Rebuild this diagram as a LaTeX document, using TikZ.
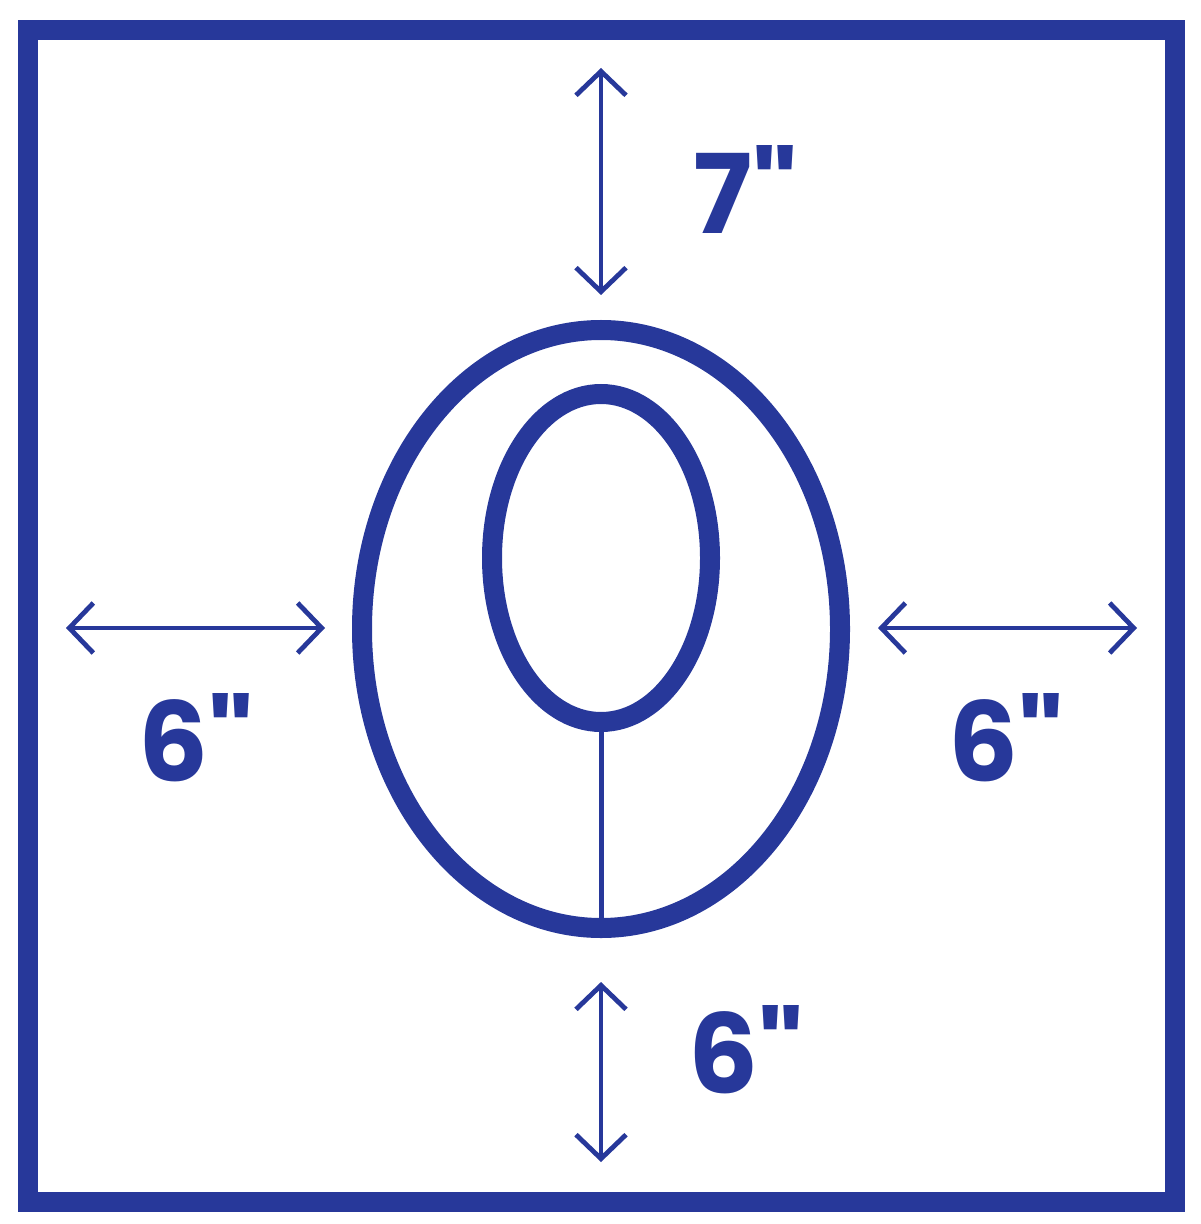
\documentclass[tikz,border=0pt]{standalone}
\usepackage{fontspec}
\newfontfamily\dimfont{Poppins}
\usetikzlibrary{shapes.geometric, arrows.meta}
\definecolor{navy}{RGB}{39,56,154}

\begin{document}
\begin{tikzpicture}[x=0.5pt,y=-0.5pt,
		rim/.style={draw=navy,line width=10pt},
		ring/.style={ellipse,rim,inner sep=0pt},
		dimline/.style={draw=navy,line width=2.4pt,{Straight Barb[length=12pt,width=25pt]}-{Straight Barb[length=12pt,width=25pt]}},
		dimtext/.style={text=navy,font=\dimfont\bfseries\fontsize{55}{55}\selectfont}]
	\useasboundingbox (0,0) rectangle (1200,1224);
	\draw[rim] (28,30) rectangle (1175,1202);
	\node[ring,minimum width=239pt,minimum height=299pt] (outer) at (601,629) {};
	\node[ring,minimum width=109pt,minimum height=164pt] (inner) at (601,558) {};
	\draw[navy,line width=2.5pt] (inner.south) -- (outer.south);
	% dimension arrows
	\coordinate (topA) at (601,68);   \coordinate (topB) at (601,295);
	\coordinate (leftA) at (66,628);  \coordinate (leftB) at (325,628);
	\coordinate (rightA) at (878,628);\coordinate (rightB) at (1137,628);
	\coordinate (botA) at (601,982);  \coordinate (botB) at (601,1162);
	\draw[dimline] (topA) -- (topB);
	\draw[dimline] (leftA) -- (leftB);
	\draw[dimline] (rightA) -- (rightB);
	\draw[dimline] (botA) -- (botB);
	\node[dimtext] (topdim) at (746,190) {7"};
	\node[dimtext] (leftdim) at (196,738) {6"};
	\node[dimtext] (rightdim) at (1006,738) {6"};
	\node[dimtext] (botdim) at (746,1050) {6"};
\end{tikzpicture}
\end{document}
